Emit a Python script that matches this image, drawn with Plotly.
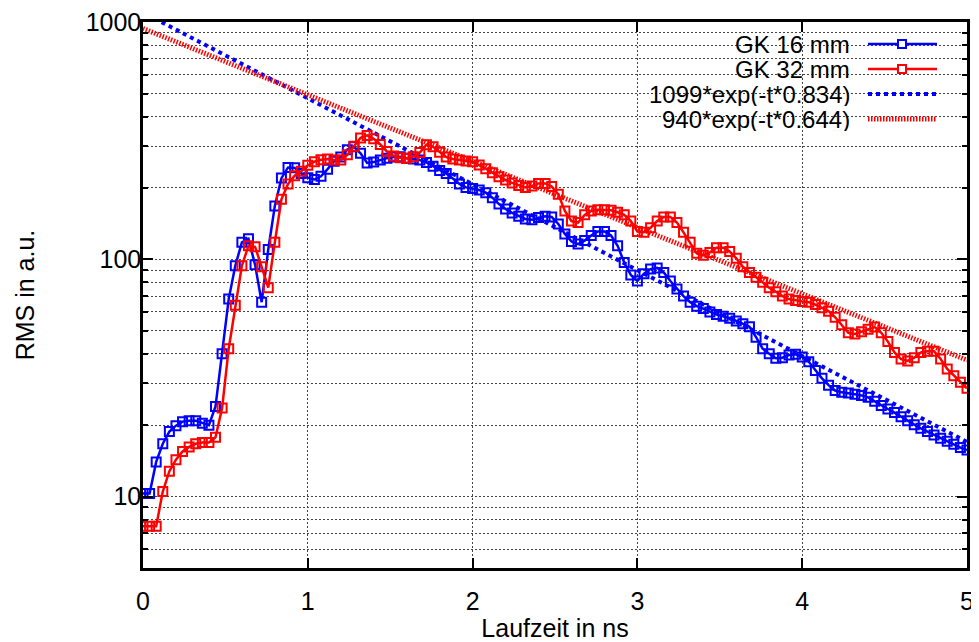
import plotly.graph_objects as go

# time grid (ns)
t = [round(0.04 * i, 2) for i in range(126)]

gk16 = [10.3, 10.3, 14, 16.7, 18.8, 19.9, 20.7, 20.9, 20.9, 20.4,
        20.0, 24, 40, 68, 94, 118, 122, 95, 66, 110,
        168, 220, 244, 243, 230, 221, 217, 224, 240, 259,
        270, 290, 298, 280, 255, 257, 262, 267, 270, 271,
        267, 265, 262, 256, 247, 237, 230, 219, 208, 201,
        199, 196, 191, 182, 171, 163, 157, 152, 148, 147,
        150, 152, 151, 141, 128, 119, 116, 120, 126, 131,
        131, 126, 114, 97, 86, 81, 87, 91, 92, 88,
        81, 75, 70, 66, 63.5, 62, 60, 58.5, 57.5, 56.5,
        55, 53.5, 52, 47, 42, 40, 38.3, 38.5, 39.5, 39.8,
        38.8, 37, 34, 31.5, 29.5, 28, 27.5, 27.3, 27, 26.7,
        26.2, 25.2, 24.2, 23.4, 22.6, 21.7, 20.9, 20.1, 19.4, 18.8,
        18.2, 17.6, 17.1, 16.6, 16.1, 15.7]

gk32 = [7.5, 7.5, 7.5, 10.5, 12.8, 14.3, 15.5, 16.2, 16.7, 16.9,
        16.9, 17.8, 23.6, 42, 64, 94, 114, 113, 93, 76,
        118, 179, 208, 225, 235, 249, 258, 263, 265, 262,
        262, 276, 300, 325, 333, 322, 305, 285, 273, 268,
        267, 271, 282, 304, 298, 283, 270, 265, 262, 260,
        258, 250, 241, 232, 223, 216, 210, 205, 201, 204,
        209, 209, 203, 188, 160, 145, 143, 154, 160, 162,
        162, 161, 158, 154, 145, 131, 130, 136, 145, 151,
        151, 143, 130, 118, 106, 104, 107, 112, 112, 108,
        101, 93, 88, 84, 80, 76, 73, 70, 68, 67,
        66.5, 66, 64.5, 62.5, 60.5, 57, 53, 49, 48.5, 49.5,
        50.8, 51.8, 49, 45, 40.5, 38, 37.3, 38.5, 40.5, 41,
        41, 38, 34.5, 32.3, 30.3, 28.6]

# fit lines (straight on log axis), end points
fit16_t = [0.113, 5.0]
fit16_v = [1000, 17.0]
fit32_t = [0.0, 5.0]
fit32_v = [940, 37.6]

legend_labels = ["GK 16 mm", "GK 32 mm", "1099*exp(-t*0.834)", "940*exp(-t*0.644)"]
x_ticks = [0, 1, 2, 3, 4, 5]
y_major = [10, 100, 1000]
y_minor = [m * d for d in (1, 10, 100) for m in range(2, 10) if 5 <= m * d < 1000]

BLUE = "#0000ff"
RED = "#ff0000"
FONT = "Liberation Sans, Arial, sans-serif"

fig = go.Figure()
fig.add_trace(go.Scatter(x=fit16_t, y=fit16_v, mode="lines",
                         line=dict(color=BLUE, width=4, dash="4px,4px"), showlegend=False))
fig.add_trace(go.Scatter(x=fit32_t, y=fit32_v, mode="lines",
                         line=dict(color=RED, width=5, dash="1.5px,1.5px"), showlegend=False))
fig.add_trace(go.Scatter(x=t, y=gk16, mode="lines+markers", name=legend_labels[0],
                         line=dict(color=BLUE, width=2.5),
                         marker=dict(symbol="square-open", size=9, color=BLUE, line=dict(width=2)),
                         showlegend=False))
fig.add_trace(go.Scatter(x=t, y=gk32, mode="lines+markers", name=legend_labels[1],
                         line=dict(color=RED, width=2.5),
                         marker=dict(symbol="square-open", size=9, color=RED, line=dict(width=2)),
                         showlegend=False))

# page body has an 8px margin: figure positioned at (8, 8) inside the window
OFF = 8
FIG_W, FIG_H = 979 - OFF, 642 - OFF
# plot area in window pixels
L, R, T, B = 143, 967, 22, 568
W, H = R - L, B - T
def px(x):
    return (x - L) / W
def py(y):
    return (B - y) / H

shapes = [dict(type="rect", xref="paper", yref="paper", x0=px(577), x1=px(951),
               y0=py(132), y1=1.0, fillcolor="white", line=dict(width=0), layer="below")]
annotations = []
rows = [44, 69, 94, 119]
styles = [(BLUE, 2.5, "solid", True), (RED, 2.5, "solid", True),
          (BLUE, 4, "4px,4px", False), (RED, 5, "1.5px,1.5px", False)]
for lab, yy, (col, wd, dsh, mk) in zip(legend_labels, rows, styles):
    annotations.append(dict(xref="paper", yref="paper", x=px(851), y=py(yy), text=lab,
                            showarrow=False, xanchor="right", yanchor="middle",
                            height=24, borderpad=0,
                            font=dict(family=FONT, size=24, color="black")))
    shapes.append(dict(type="line", xref="paper", yref="paper", x0=px(868), x1=px(937),
                       y0=py(yy), y1=py(yy), line=dict(color=col, width=wd, dash=dsh), layer="above"))
    if mk:
        shapes.append(dict(type="rect", xref="paper", yref="paper", x0=px(898), x1=px(906),
                           y0=py(yy + 4), y1=py(yy - 4), fillcolor="white",
                           line=dict(color=col, width=2), layer="above"))

grid_kw = dict(showgrid=True, gridcolor="#444444", gridwidth=1, griddash="2px,2px")

fig.update_layout(
    width=FIG_W, height=FIG_H,
    margin=dict(l=L - OFF, r=979 - R, t=T - OFF, b=642 - B, autoexpand=False),
    paper_bgcolor="white", plot_bgcolor="white",
    font=dict(family=FONT, size=25, color="black"),
    shapes=shapes, annotations=annotations,
    xaxis=dict(range=[0, 5], tickmode="array", tickvals=x_ticks, ticktext=[str(v) for v in x_ticks],
               ticks="inside", ticklen=10, tickwidth=2, tickcolor="black",
               showline=True, linecolor="black", linewidth=2.5, mirror="allticks",
               zeroline=False, ticklabelstandoff=9, automargin=False, ticklabeloverflow="allow",
               title=dict(text="Laufzeit in ns", standoff=12, font=dict(size=25)),
               **grid_kw),
    yaxis=dict(type="log", range=[0.69897, 3.0005], tickmode="array", tickvals=y_major,
               ticktext=[str(v) for v in y_major],
               ticks="inside", ticklen=10, tickwidth=2, tickcolor="black",
               showline=True, linecolor="black", linewidth=2.5, mirror="allticks",
               zeroline=False, ticklabelstandoff=-6, automargin=False, ticklabeloverflow="allow",
               title=dict(text="RMS in a.u.", standoff=44, font=dict(size=25)),
               minor=dict(tickmode="array", tickvals=y_minor, ticks="inside", ticklen=5,
                          tickwidth=2, tickcolor="black", **grid_kw),
               **grid_kw),
)
fig.write_html("out.html")
